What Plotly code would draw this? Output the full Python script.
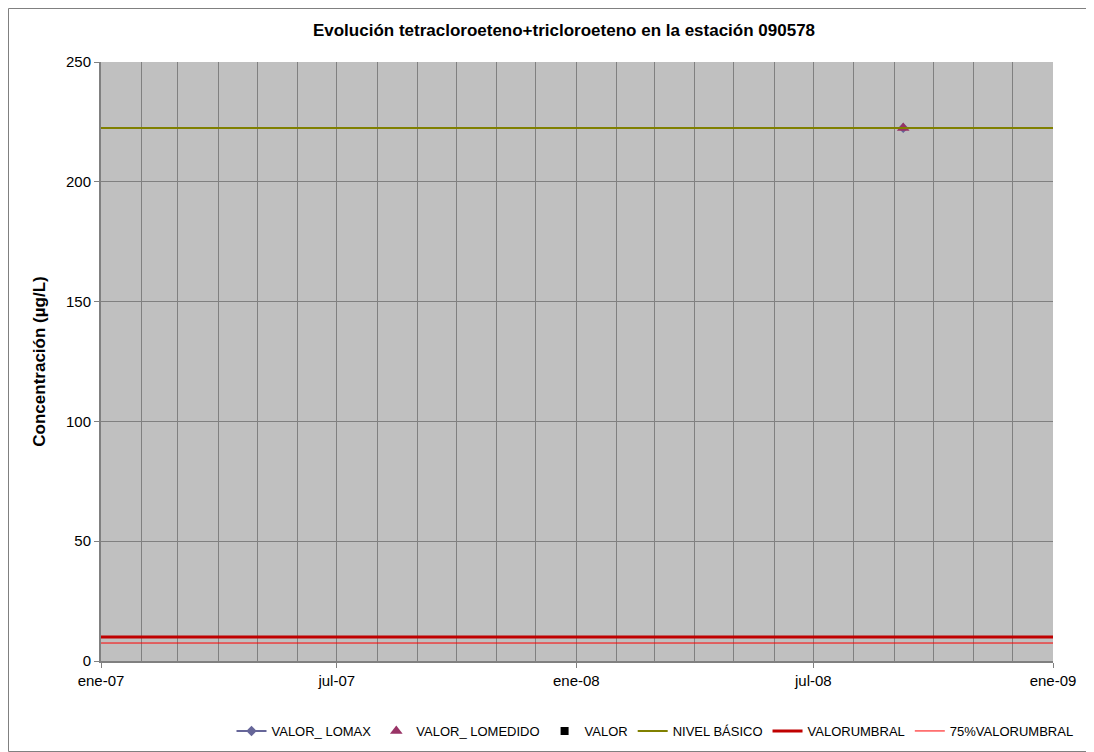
import plotly.graph_objects as go

# ---- data ----
tick_dates = ["2007-01-01", "2007-07-01", "2008-01-01", "2008-07-01", "2009-01-01"]
tick_labels = ["ene-07", "jul-07", "ene-08", "jul-08", "ene-09"]

sample_dates = ["2008-09-08"]
valor_lomax = [222.5]
valor_lomedido = [222.5]
valor = []
valor_dates = []

ref_dates = ["2007-01-01", "2008-09-08", "2009-01-01"]
nivel_basico = [222.5, 222.5, 222.5]
valor_umbral = [10, 10, 10]
umbral_75 = [7.5, 7.5, 7.5]

FONT = "Liberation Sans, Arial, sans-serif"

# page has an 8px body margin; figure sized to fit the window
W, H = 1086, 744
L, R, T, B = 93, 41, 54, 91
PW, PH = W - L - R, H - T - B

fig = go.Figure()
fig.add_trace(go.Scatter(x=sample_dates, y=valor_lomax, name="VALOR_ LOMAX",
                         mode="lines+markers",
                         line=dict(color="#666699", width=2),
                         marker=dict(symbol="diamond", size=8, color="#666699")))
fig.add_trace(go.Scatter(x=sample_dates, y=valor_lomedido, name="VALOR_ LOMEDIDO",
                         mode="markers",
                         marker=dict(symbol="triangle-up", size=11, color="#993366")))
fig.add_trace(go.Scatter(x=valor_dates if valor_dates else [None],
                         y=valor if valor else [None], name="VALOR",
                         mode="markers",
                         marker=dict(symbol="square", size=8, color="#000000")))
fig.add_trace(go.Scatter(x=ref_dates, y=nivel_basico, name="NIVEL BÁSICO",
                         mode="lines", line=dict(color="#808000", width=2)))
fig.add_trace(go.Scatter(x=ref_dates, y=valor_umbral, name="VALORUMBRAL",
                         mode="lines", line=dict(color="#C00000", width=3)))
fig.add_trace(go.Scatter(x=ref_dates, y=umbral_75, name="75%VALORUMBRAL",
                         mode="lines", line=dict(color="#FF0000", width=1)))

fig.update_layout(
    width=W, height=H,
    margin=dict(l=L, r=R, t=T, b=B, autoexpand=False),
    paper_bgcolor="white",
    plot_bgcolor="#C0C0C0",
    font=dict(family=FONT, size=13, color="black"),
    title=dict(text="<b>Evolución tetracloroeteno+tricloroeteno en la estación 090578</b>",
               x=556 / W, xanchor="center", y=1 - 22 / H, yanchor="middle",
               font=dict(family=FONT, size=17, color="black")),
    showlegend=True,
    legend=dict(orientation="h", xref="container", x=(655 - 8) / W, xanchor="center",
                yref="container", y=1 - (731 - 8) / H, yanchor="middle",
                font=dict(family=FONT, size=13, color="black"),
                bgcolor="rgba(0,0,0,0)", itemwidth=30, tracegroupgap=0),
    xaxis=dict(
        type="date",
        range=["2007-01-01", "2009-01-01"],
        tickvals=tick_dates, ticktext=tick_labels,
        showgrid=True, gridcolor="#808080", gridwidth=1,
        minor=dict(dtick="M1", tick0="2007-01-01", showgrid=True,
                   gridcolor="#808080", gridwidth=1),
        showline=True, linecolor="#808080", linewidth=2,
        ticks="outside", ticklen=5, tickcolor="#808080",
        tickfont=dict(family=FONT, size=15),
        zeroline=False, automargin=False,
    ),
    yaxis=dict(
        range=[0, 250], dtick=50,
        showgrid=True, gridcolor="#808080", gridwidth=1,
        showline=True, linecolor="#808080", linewidth=2,
        ticks="outside", ticklen=5, tickcolor="#808080",
        tickfont=dict(family=FONT, size=15),
        zeroline=False, automargin=False,
        title=dict(text="<b>Concentración (µg/L)</b>",
                   font=dict(family=FONT, size=17), standoff=16),
    ),
)

# outer chart border (figure edges)
fig.add_shape(type="rect", xref="paper", yref="paper",
              x0=(0.5 - L) / PW, x1=(W - 0.5 - L) / PW,
              y0=-(H - 0.5 - (T + PH)) / PH, y1=(T + PH - 0.5) / PH,
              line=dict(color="#808080", width=1), fillcolor="rgba(0,0,0,0)",
              layer="below")

fig.write_html("out.html", config={"displayModeBar": False})
